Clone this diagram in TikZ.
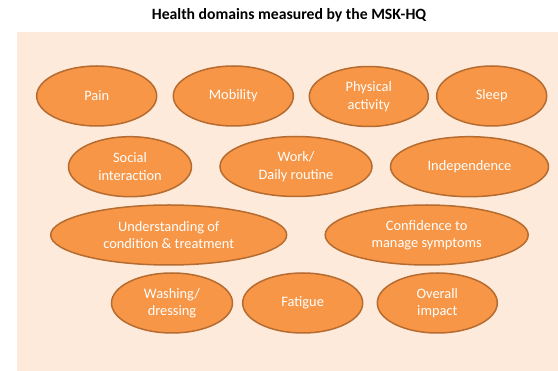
\documentclass[tikz,border=0pt]{standalone}
\usepackage{fontspec}
\setmainfont{Carlito}
\usepackage{tikz}
\usetikzlibrary{positioning,shapes.geometric}
\definecolor{hqorange}{RGB}{247,150,70}
\definecolor{hqedge}{RGB}{182,108,48}
\definecolor{hqtint}{RGB}{253,234,218}

\begin{document}
\begin{tikzpicture}[
  x=1pt, y=-1pt,
  area/.style={ellipse, draw=hqedge, line width=1.5pt, fill=hqorange, text=white, align=center, inner sep=0pt, minimum height=60pt, font=\fontsize{14.4}{17.5}\selectfont},
  heading/.style={font=\fontsize{15.7}{18}\selectfont\bfseries},
]
\useasboundingbox (0,0) rectangle (558,371);
\fill[hqtint] (17,32) rectangle (558,371);
\node[heading] (title) at (289,15) {Health domains measured by the MSK-HQ};
% first row
\node[area, minimum width=120pt] (pain) at (96.7,96) {Pain};
\node[area, minimum width=120pt] (mobility) at (233.3,96) {Mobility};
\node[area, minimum width=119pt] (activity) at (368.8,96.5) {Physical\\activity};
\node[area, minimum width=110pt] (sleep) at (491.7,96) {Sleep};
% second row
\node[area, minimum width=123pt] (social) at (130,166.7) {Social\\interaction};
\node[area, minimum width=152pt] (work) at (296,166.5) {Work/\\Daily routine};
\node[area, minimum width=158pt] (indep) at (469.5,166.7) {Independence};
% third row
\node[area, minimum width=236pt] (underst) at (168.7,235) {Understanding of\\condition \& treatment};
\node[area, minimum width=203pt] (confid) at (426.7,235) {Confidence to\\manage symptoms};
% fourth row
\node[area, minimum width=121pt] (washing) at (172,303) {Washing/\\dressing};
\node[area, minimum width=120pt] (fatigue) at (302.7,303) {Fatigue};
\node[area, minimum width=120pt] (overall) at (437.3,303) {Overall\\impact};
\end{tikzpicture}
\end{document}
